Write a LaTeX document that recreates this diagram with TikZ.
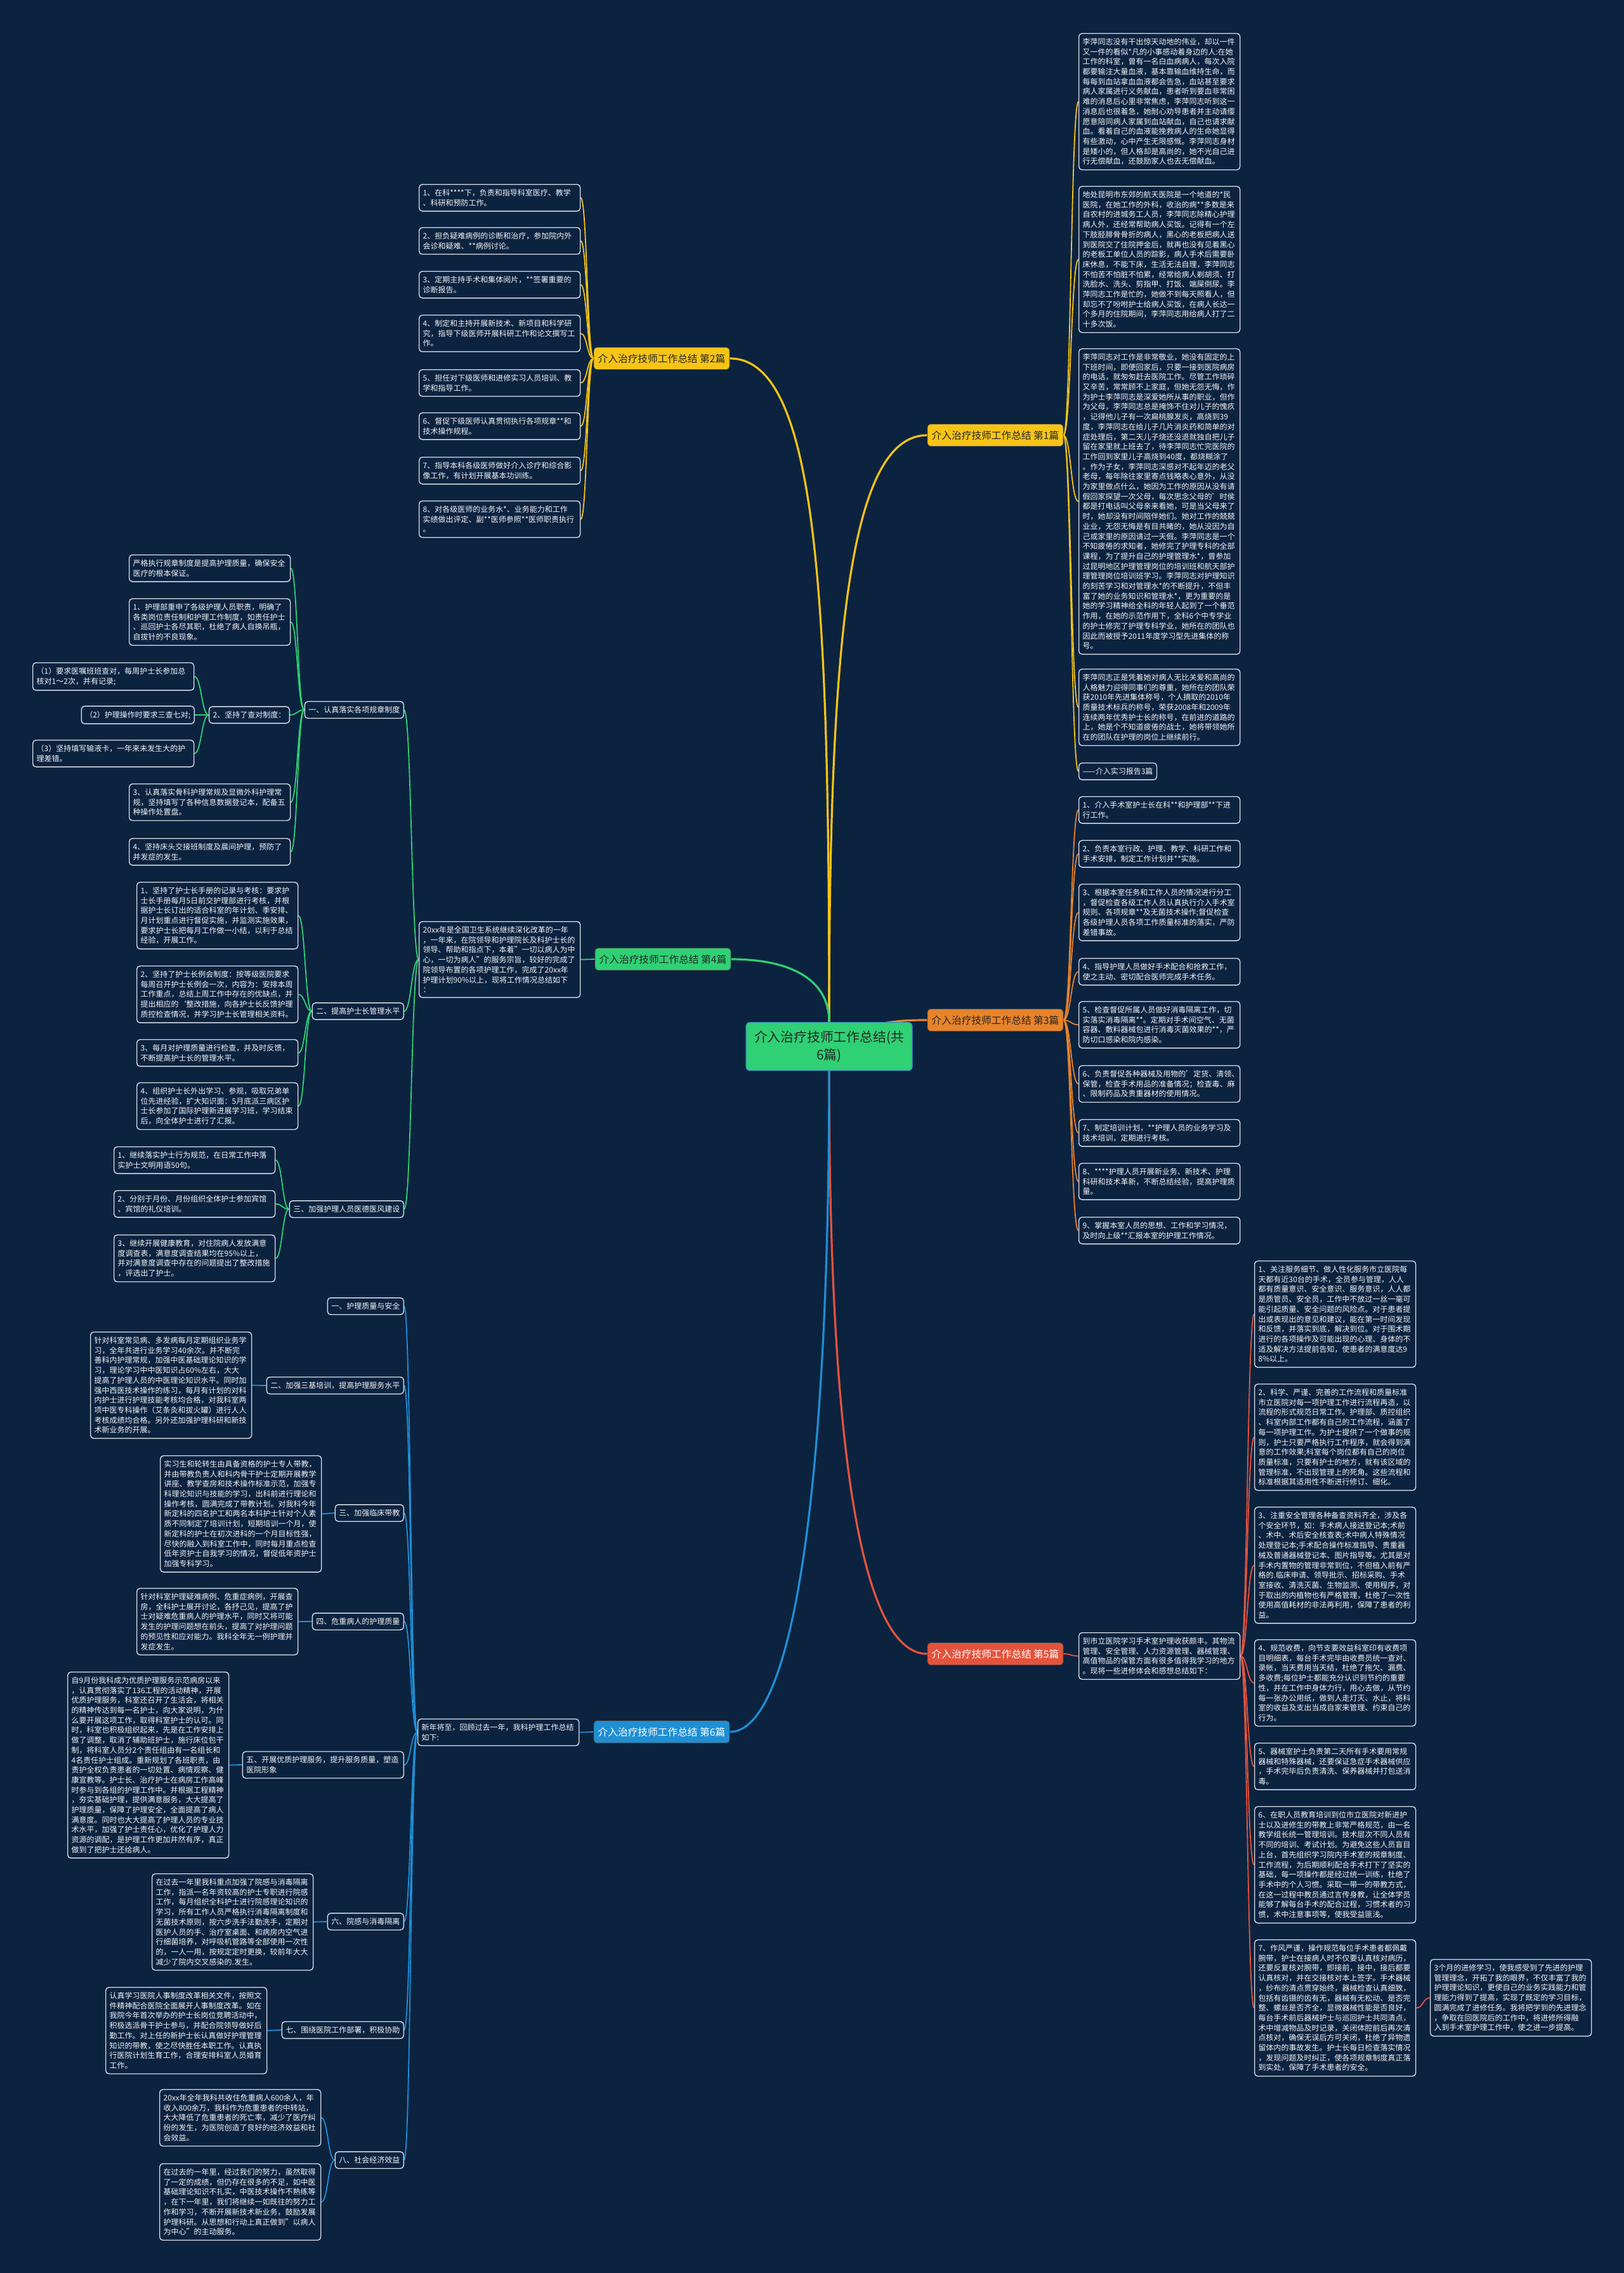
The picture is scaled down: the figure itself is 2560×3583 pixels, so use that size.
\documentclass[tikz,border=0pt]{standalone}
\usepackage{fontspec}
\setmainfont{Noto Sans CJK SC}
\usetikzlibrary{calc}
\definecolor{bgc}{HTML}{0C2340}
\definecolor{boxline}{HTML}{D5DBE3}
\definecolor{txt}{HTML}{F2F4F7}
\definecolor{cyel}{HTML}{F6C417}
\definecolor{cgrn}{HTML}{2FD174}
\definecolor{corg}{HTML}{E8832A}
\definecolor{cred}{HTML}{E5533D}
\definecolor{cblu}{HTML}{1E8FD5}
\definecolor{cbord}{HTML}{3A86C8}
\newcommand{\tfont}{\fontsize{6pt}{7.85pt}\selectfont}
\newcommand{\bfont}{\fontsize{7.85pt}{9pt}\selectfont}
\newcommand{\cfont}{\fontsize{10.4pt}{14pt}\selectfont}
\pgfdeclarelayer{back}
\pgfsetlayers{back,main}
\begin{document}
\begin{tikzpicture}[x=0.5pt,y=-0.5pt,
 tbox/.style={draw=boxline,line width=0.7pt,rounded corners=2.5pt,fill=bgc,text=txt,font=\tfont,align=left,inner xsep=3pt,inner ysep=3.8pt,anchor=north west,text width=121pt},
 lbl/.style={draw=boxline,line width=0.7pt,rounded corners=2.5pt,fill=bgc,text=txt,font=\tfont,align=left,inner xsep=3pt,inner ysep=3.8pt,anchor=east},
 br/.style={draw=black!70,line width=0.4pt,rounded corners=2.5pt,font=\bfont,inner xsep=3pt,inner ysep=4pt,minimum width=107pt,minimum height=17.5pt},
 hcurve/.style={to path={let \p1=(\tikztostart), \p2=(\tikztotarget) in .. controls ({0.5*\x1+0.5*\x2},\y1) and ({0.5*\x1+0.5*\x2},\y2) .. (\tikztotarget)}},
 ln/.style={line width=0.9pt},
 mln/.style={line width=1.6pt},
]
\useasboundingbox (0,0) rectangle (2560,3583);
\begin{pgfonlayer}{back}
\fill[bgc] (0,0) rectangle (2560,3583);
\end{pgfonlayer}

% ---------- center and branches ----------
\node[fill=cgrn,draw=cbord,line width=0.6pt,rounded corners=3pt,font=\cfont,text=black!85,align=center,minimum width=131pt,minimum height=38pt,anchor=north] (c) at (1307,1611) {介入治疗技师工作总结(共\\6篇)};
\node[br,fill=cyel,text=black!85] (b1) at (1569,686) {介入治疗技师工作总结 第1篇};
\node[br,fill=cyel,text=black!85] (b2) at (1043,565) {介入治疗技师工作总结 第2篇};
\node[br,fill=corg,text=black!85] (b3) at (1569,1608) {介入治疗技师工作总结 第3篇};
\node[br,fill=cgrn,text=black!85] (b4) at (1045,1512) {介入治疗技师工作总结 第4篇};
\node[br,fill=cred,text=white] (b5) at (1569,2607) {介入治疗技师工作总结 第5篇};
\node[br,fill=cblu,text=white] (b6) at (1043,2730) {介入治疗技师工作总结 第6篇};

% ---------- branch 1 ----------
\node[tbox] (a1) at (1700,52) {李萍同志没有干出惊天动地的伟业，却以一件\\又一件的看似*凡的小事感动着身边的人:在她\\工作的科室，曾有一名白血病病人，每次入院\\都要输注大量血液，基本靠输血维持生命，而\\每每到血站拿血血液都会告急，血站甚至要求\\病人家属进行义务献血，患者听到要血非常困\\难的消息后心里非常焦虑，李萍同志听到这一\\消息后也很着急，她耐心劝导患者并主动请缨\\愿意陪同病人家属到血站献血，自己也请求献\\血。看着自己的血液能挽救病人的生命她显得\\有些激动，心中产生无限感慨。李萍同志身材\\是矮小的，但人格却是高尚的，她不光自己进\\行无偿献血，还鼓励家人也去无偿献血。};
\node[tbox] (a2) at (1700,293) {地处昆明市东郊的航天医院是一个地道的*民\\医院，在她工作的外科，收治的病**多数是来\\自农村的进城务工人员，李萍同志除精心护理\\病人外，还经常帮助病人买饭。记得有一个左\\下肢胫腓骨骨折的病人，黑心的老板把病人送\\到医院交了住院押金后，就再也没有见着黑心\\的老板工单位人员的踪影，病人手术后需要卧\\床休息，不能下床，生活无法自理，李萍同志\\不怕苦不怕脏不怕累，经常给病人剃胡须、打\\洗脸水、洗头、剪指甲、打饭、端屎倒尿。李\\萍同志工作是忙的，她做不到每天照看人，但\\却忘不了吩咐护士给病人买饭，在病人长达一\\个多月的住院期间，李萍同志用给病人打了二\\十多次饭。};
\node[tbox] (a3) at (1700,549) {李萍同志对工作是非常敬业，她没有固定的上\\下班时间，即便回家后，只要一接到医院病房\\的电话，就匆匆赶去医院工作。尽管工作琐碎\\又辛苦，常常顾不上家庭，但她无怨无悔，作\\为护士李萍同志是深爱她所从事的职业，但作\\为父母，李萍同志总是掩饰不住对儿子的愧疚\\，记得他儿子有一次扁桃腺发炎，高烧到39\\度，李萍同志在给儿子几片消炎药和简单的对\\症处理后，第二天儿子烧还没退就独自把儿子\\留在家里就上班去了，待李萍同志忙完医院的\\工作回到家里儿子高烧到40度，都烧糊涂了\\。作为子女，李萍同志深感对不起年迈的老父\\老母，每年除往家里寄点钱略表心意外，从没\\为家里做点什么，她因为工作的原因从没有请\\假回家探望一次父母，每次思念父母的'时侯\\都是打电话叫父母亲来看她，可是当父母来了\\时，她却没有时间陪伴她们。她对工作的兢兢\\业业，无怨无悔是有目共睹的，她从没因为自\\己或家里的原因请过一天假。李萍同志是一个\\不知疲倦的求知者，她修完了护理专科的全部\\课程，为了提升自己的护理管理水*，曾参加\\过昆明地区护理管理岗位的培训班和航天部护\\理管理岗位培训班学习。李萍同志对护理知识\\的刻苦学习和对管理水*的不断提升，不但丰\\富了她的业务知识和管理水*，更为重要的是\\她的学习精神给全科的年轻人起到了一个垂范\\作用，在她的示范作用下，全科6个中专学业\\的护士修完了护理专科学业，她所在的团队也\\因此而被授予2011年度学习型先进集体的称\\号。};
\node[tbox] (a4) at (1700,1054) {李萍同志正是凭着她对病人无比关爱和高尚的\\人格魅力迎得同事们的尊重，她所在的团队荣\\获2010年先进集体称号，个人摘取的2010年\\质量技术标兵的称号，荣获2008年和2009年\\连续两年优秀护士长的称号，在前进的道路的\\上，她是个不知道疲倦的战士，她将带领她所\\在的团队在护理的岗位上继续前行。};
\node[tbox,text width=] (a5) at (1700,1202) {——介入实习报告3篇};

% ---------- branch 3 ----------
\node[tbox] (o1) at (1700,1255) {1、介入手术室护士长在科**和护理部**下进\\行工作。};
\node[tbox] (o2) at (1700,1324) {2、负责本室行政、护理、教学、科研工作和\\手术安排，制定工作计划并**实施。};
\node[tbox] (o3) at (1700,1393) {3、根据本室任务和工作人员的情况进行分工\\，督促检查各级工作人员认真执行介入手术室\\规则、各项规章**及无菌技术操作;督促检查\\各级护理人员各项工作质量标准的落实，严防\\差错事故。};
\node[tbox] (o4) at (1700,1510) {4、指导护理人员做好手术配合和抢救工作，\\使之主动、密切配合医师完成手术任务。};
\node[tbox] (o5) at (1700,1578) {5、检查督促所属人员做好消毒隔离工作，切\\实落实消毒隔离**。定期对手术间空气、无菌\\容器、敷料器械包进行消毒灭菌效果的**，严\\防切口感染和院内感染。};
\node[tbox] (o6) at (1700,1679) {6、负责督促各种器械及用物的'定货、清领、\\保管，检查手术用品的准备情况；检查毒、麻\\、限制药品及贵重器材的使用情况。};
\node[tbox] (o7) at (1700,1764) {7、制定培训计划，**护理人员的业务学习及\\技术培训，定期进行考核。};
\node[tbox] (o8) at (1700,1833) {8、****护理人员开展新业务、新技术、护理\\科研和技术革新，不断总结经验，提高护理质\\量。};
\node[tbox] (o9) at (1700,1918) {9、掌握本室人员的思想、工作和学习情况，\\及时向上级**汇报本室的护理工作情况。};

% ---------- branch 2 ----------
\node[tbox] (y1) at (660,290) {1、在科****下，负责和指导科室医疗、教学\\、科研和预防工作。};
\node[tbox] (y2) at (660,358) {2、担负疑难病例的诊断和治疗，参加院内外\\会诊和疑难、**病例讨论。};
\node[tbox] (y3) at (660,427) {3、定期主持手术和集体阅片，**签署重要的\\诊断报告。};
\node[tbox] (y4) at (660,496) {4、制定和主持开展新技术、新项目和科学研\\究，指导下级医师开展科研工作和论文撰写工\\作。};
\node[tbox] (y5) at (660,582) {5、担任对下级医师和进修实习人员培训、教\\学和指导工作。};
\node[tbox] (y6) at (660,650) {6、督促下级医师认真贯彻执行各项规章**和\\技术操作规程。};
\node[tbox] (y7) at (660,720) {7、指导本科各级医师做好介入诊疗和综合影\\像工作，有计划开展基本功训练。};
\node[tbox] (y8) at (660,789) {8、对各级医师的业务水*、业务能力和工作\\实绩做出评定、副**医师参照**医师职责执行\\。};

% ---------- branch 4 ----------
\node[tbox] (in4) at (660,1452) {20xx年是全国卫生系统继续深化改革的一年\\，一年来，在院领导和护理院长及科护士长的\\领导、帮助和指点下，本着"一切以病人为中\\心，一切为病人"的服务宗旨，较好的完成了\\院领导布置的各项护理工作，完成了20xx年\\护理计划90\%以上，现将工作情况总结如下\\：};
\node[lbl] (g1) at (637,1119) {一、认真落实各项规章制度};
\node[lbl] (g2) at (637,1594) {二、提高护士长管理水平};
\node[lbl] (g3) at (637,1906) {三、加强护理人员医德医风建设};
\node[tbox] (g1a) at (203,874) {严格执行规章制度是提高护理质量，确保安全\\医疗的根本保证。};
\node[tbox] (g1b) at (203,943) {1、护理部重申了各级护理人员职责，明确了\\各类岗位责任制和护理工作制度，如责任护士\\、巡回护士各尽其职，杜绝了病人自换吊瓶，\\自拔针的不良现象。};
\node[lbl] (g1c) at (457,1127) {2、坚持了查对制度：};
\node[tbox] (p1) at (51,1044) {（1）要求医嘱班班查对，每周护士长参加总\\核对1～2次，并有记录;};
\node[lbl] (p2) at (307,1127) {（2）护理操作时要求三查七对;};
\node[tbox] (p3) at (51,1166) {（3）坚持填写输液卡，一年来未发生大的护\\理差错。};
\node[tbox] (g1d) at (203,1235) {3、认真落实骨科护理常规及显微外科护理常\\规，坚持填写了各种信息数据登记本，配备五\\种操作处置盘。};
\node[tbox] (g1e) at (203,1321) {4、坚持床头交接班制度及晨间护理，预防了\\并发症的发生。};
\node[tbox] (g2a) at (215,1390) {1、坚持了护士长手册的记录与考核：要求护\\士长手册每月5日前交护理部进行考核，并根\\据护士长订出的适合科室的年计划、季安排、\\月计划重点进行督促实施，并监测实施效果，\\要求护士长把每月工作做一小结，以利于总结\\经验，开展工作。};
\node[tbox] (g2b) at (215,1522) {2、坚持了护士长例会制度：按等级医院要求\\每周召开护士长例会一次，内容为：安排本周\\工作重点，总结上周工作中存在的优缺点，并\\提出相应的`整改措施，向各护士长反馈护理\\质控检查情况，并学习护士长管理相关资料。};
\node[tbox] (g2c) at (215,1638) {3、每月对护理质量进行检查，并及时反馈，\\不断提高护士长的管理水平。};
\node[tbox] (g2d) at (215,1706) {4、组织护士长外出学习、参观，吸取兄弟单\\位先进经验，扩大知识面：5月底派三病区护\\士长参加了国际护理新进展学习班，学习结束\\后，向全体护士进行了汇报。};
\node[tbox] (g3a) at (179,1807) {1、继续落实护士行为规范，在日常工作中落\\实护士文明用语50句。};
\node[tbox] (g3b) at (179,1876) {2、分别于月份、月份组织全体护士参加宾馆\\、宾馆的礼仪培训。};
\node[tbox] (g3c) at (179,1946) {3、继续开展健康教育，对住院病人发放满意\\度调查表，满意度调查结果均在95\%以上，\\并对满意度调查中存在的问题提出了整改措施\\，评选出了护士。};

% ---------- branch 5 ----------
\node[tbox] (m5) at (1700,2573) {到市立医院学习手术室护理收获颇丰。其物流\\管理、安全管理、人力资源管理、器械管理、\\高值物品的保管方面有很多值得我学习的地方\\。现将一些进修体会和感想总结如下：};
\node[tbox] (r1) at (1977,1987) {1、关注服务细节、做人性化服务市立医院每\\天都有近30台的手术，全员参与管理，人人\\都有质量意识、安全意识、服务意识，人人都\\是质管员、安全员，工作中不放过一丝一毫可\\能引起质量、安全问题的风险点。对于患者提\\出或表现出的意见和建议，能在第一时间发现\\和反馈，并落实到底，解决到位。对于围术期\\进行的各项操作及可能出现的心理、身体的不\\适及解决方法提前告知，使患者的满意度达9\\8\%以上。};
\node[tbox] (r2) at (1977,2181) {2、科学、严谨、完善的工作流程和质量标准\\市立医院对每一项护理工作进行流程再造，以\\流程的形式规范日常工作。护理部、质控组织\\、科室内部工作都有自己的工作流程，涵盖了\\每一项护理工作。为护士提供了一个做事的规\\则，护士只要严格执行工作程序，就会得到满\\意的工作效果;科室每个岗位都有自己的岗位\\质量标准，只要有护士的地方，就有该区域的\\管理标准，不出现管理上的死角。这些流程和\\标准根据其适用性不断进行修订、细化。};
\node[tbox] (r3) at (1977,2375) {3、注重安全管理各种备查资料齐全，涉及各\\个安全环节，如：手术病人接送登记本;术前\\、术中、术后安全核查表;术中病人特殊情况\\处理登记本;手术配合操作标准指导、贵重器\\械及普通器械登记本、图片指导等。尤其是对\\手术内置物的管理非常到位，不但植入前有严\\格的.临床申请、领导批示、招标采购、手术\\室接收、清洗灭菌、生物监测、使用程序，对\\于取出的内植物也有严格管理，杜绝了一次性\\使用高值耗材的非法再利用，保障了患者的利\\益。};
\node[tbox] (r4) at (1977,2584) {4、规范收费，向节支要效益科室印有收费项\\目明细表，每台手术完毕由收费员统一查对、\\录帐，当天费用当天结，杜绝了拖欠、漏费、\\多收费;每位护士都能充分认识到节约的重要\\性，并在工作中身体力行，用心去做，从节约\\每一张办公用纸，做到人走灯灭、水止，将科\\室的收益及支出当成自家来管理、约束自己的\\行为。};
\node[tbox] (r5) at (1977,2747) {5、器械室护士负责第二天所有手术要用常规\\器械和特殊器械，还要保证急症手术器械供应\\，手术完毕后负责清洗、保养器械并打包送消\\毒。};
\node[tbox] (r6) at (1977,2847) {6、在职人员教育培训到位市立医院对新进护\\士以及进修生的带教上非常严格规范，由一名\\教学组长统一管理培训。技术层次不同人员有\\不同的培训、考试计划。为避免这些人员盲目\\上台，首先组织学习院内手术室的规章制度、\\工作流程，为后期顺利配合手术打下了坚实的\\基础，每一项操作都是经过统一训练，杜绝了\\手术中的个人习惯。采取一带一的带教方式，\\在这一过程中教员通过言传身教，让全体学员\\能够了解每台手术的配合过程，习惯术者的习\\惯，术中注意事项等，使我受益匪浅。};
\node[tbox] (r7) at (1977,3057) {7、作风严谨，操作规范每位手术患者都佩戴\\腕带，护士在接病人时不仅要认真核对病历，\\还要反复核对腕带，即接前，接中，接后都要\\认真核对，并在交接核对本上签字。手术器械\\，纱布的清点贯穿始终，器械检查认真细致，\\包括有齿镊的齿有无，器械有无松动、是否完\\整、螺丝是否齐全，显微器械性能是否良好，\\每台手术前后器械护士与巡回护士共同清点，\\术中增减物品及时记录，关闭体腔前后再次清\\点核对，确保无误后方可关闭，杜绝了异物遗\\留体内的事故发生。护士长每日检查落实情况\\，发现问题及时纠正，使各项规章制度真正落\\到实处，保障了手术患者的安全。};
\node[tbox] (m3) at (2254,3088) {3个月的进修学习，使我感受到了先进的护理\\管理理念，开拓了我的眼界，不仅丰富了我的\\护理理论知识，更使自己的业务实践能力和管\\理能力得到了提高，实现了既定的学习目标，\\圆满完成了进修任务。我将把学到的先进理念\\，争取在回医院后的工作中，将进修所得融\\入到手术室护理工作中，使之进一步提高。};

% ---------- branch 6 ----------
\node[tbox] (in6) at (658,2709) {新年将至，回顾过去一年，我科护理工作总结\\如下:};
\node[lbl] (s1) at (637,2059) {一、护理质量与安全};
\node[lbl] (s2) at (637,2184) {二、加强三基培训，提高护理服务水平};
\node[lbl] (s3) at (637,2385) {三、加强临床带教};
\node[lbl] (s4) at (637,2556) {四、危重病人的护理质量};
\node[tbox,anchor=east] (s5) at (637,2782) {五、开展优质护理服务，提升服务质量，塑造\\医院形象};
\node[lbl] (s6) at (637,3029) {六、院感与消毒隔离};
\node[lbl] (s7) at (637,3200) {七、围绕医院工作部署，积极协助};
\node[lbl] (s8) at (637,3405) {八、社会经济效益};
\node[tbox] (t2) at (142,2099) {针对科室常见病、多发病每月定期组织业务学\\习，全年共进行业务学习40余次。并不断完\\善科内护理常规，加强中医基础理论知识的学\\习，理论学习中中医知识占60\%左右，大大\\提高了护理人员的中医理论知识水平。同时加\\强中西医技术操作的练习，每月有计划的对科\\内护士进行护理技能考核均合格，对我科室两\\项中医专科操作（艾条灸和拔火罐）进行人人\\考核成绩均合格。另外还加强护理科研和新技\\术新业务的开展。};
\node[tbox] (t3) at (252,2294) {实习生和轮转生由具备资格的护士专人带教，\\并由带教负责人和科内骨干护士定期开展教学\\讲座、教学查房和技术操作标准示范，加强专\\科理论知识与技能的学习，出科前进行理论和\\操作考核，圆满完成了带教计划。对我科今年\\新定科的四名护工和两名本科护士针对个人素\\质不同制定了培训计划，短期培训一个月，使\\新定科的护士在初次进科的一个月目标性强，\\尽快的融入到科室工作中，同时每月重点检查\\低年资护士自我学习的情况，督促低年资护士\\加强专科学习。};
\node[tbox] (t4) at (215,2503) {针对科室护理疑难病例、危重症病例，开展查\\房，全科护士展开讨论，各抒己见，提高了护\\士对疑难危重病人的护理水平，同时又将可能\\发生的护理问题想在前头，提高了对护理问题\\的预见性和应对能力。我科全年无一例护理并\\发症发生。};
\node[tbox] (t5) at (106,2635) {自9月份我科成为优质护理服务示范病房以来\\，认真贯彻落实了136工程的活动精神，开展\\优质护理服务，科室还召开了生活会，将相关\\的精神传达到每一名护士，向大家说明，为什\\么要开展这项工作，取得科室护士的认可。同\\时，科室也积极组织起来，先是在工作安排上\\做了调整，取消了辅助班护士，施行床位包干\\制，将科室人员分2个责任组由有一名组长和\\4名责任护士组成。重新规划了各班职责，由\\责护全权负责患者的一切处置、病情观察、健\\康宣教等。护士长、治疗护士在病房工作高峰\\时参与到各组的护理工作中。并根据工程精神\\，夯实基础护理，提供满意服务，大大提高了\\护理质量，保障了护理安全，全面提高了病人\\满意度。同时也大大提高了护理人员的专业技\\术水平，加强了护士责任心，优化了护理人力\\资源的调配，是护理工作更加井然有序，真正\\做到了把护士还给病人。};
\node[tbox] (t6) at (239,2953) {在过去一年里我科重点加强了院感与消毒隔离\\工作，指派一名年资较高的护士专职进行院感\\工作，每月组织全科护士进行院感理论知识的\\学习，所有工作人员严格执行消毒隔离制度和\\无菌技术原则，按六步洗手法勤洗手，定期对\\医护人员的手、治疗室桌面、和病房内空气进\\行细菌培养，对呼吸机管路等全部使用一次性\\的，一人一用，按规定定时更换，较前年大大\\减少了院内交叉感染的.发生。};
\node[tbox] (t7) at (166,3132) {认真学习医院人事制度改革相关文件，按照文\\件精神配合医院全面展开人事制度改革。如在\\我院今年首次举办的护士长岗位竞聘活动中，\\积极选派骨干护士参与，并配合院领导做好后\\勤工作。对上任的新护士长认真做好护理管理\\知识的带教，使之尽快胜任本职工作。认真执\\行医院计划生育工作，合理安排科室人员婚育\\工作。};
\node[tbox] (t8a) at (251,3293) {20xx年全年我科共收住危重病人600余人，年\\收入800余万，我科作为危重患者的中转站，\\大大降低了危重患者的死亡率，减少了医疗纠\\纷的发生，为医院创造了良好的经济效益和社\\会效益。};
\node[tbox] (t8b) at (251,3410) {在过去的一年里，经过我们的努力，虽然取得\\了一定的成绩，但仍存在很多的不足，如中医\\基础理论知识不扎实，中医技术操作不熟练等\\，在下一年里，我们将继续一如既往的努力工\\作和学习，不断开展新技术新业务，鼓励发展\\护理科研。从思想和行动上真正做到"以病人\\为中心"的主动服务。};

% ---------- connectors ----------
\begin{pgfonlayer}{back}
\draw[cyel,mln] (c.north) .. controls (1307,950) and (1290,565) .. (b2.east);
\draw[cyel,mln] (c.north) .. controls (1307,1000) and (1340,686) .. (b1.west);
\draw[cgrn,mln] (c.north) .. controls (1307,1540) and (1240,1512) .. (b4.east);
\draw[corg,mln] (1386,1614) .. controls (1420,1608) and (1440,1608) .. (b3.west);
\draw[cred,mln] (c.south) .. controls (1307,2300) and (1360,2607) .. (b5.west);
\draw[cblu,mln] (c.south) .. controls (1307,2350) and (1250,2730) .. (b6.east);
\foreach \nd in {a1,a2,a3,a4,a5} \draw[cyel,ln] (b1.east) to[hcurve] (\nd.west);
\foreach \nd in {y1,y2,y3,y4,y5,y6,y7,y8} \draw[cyel,ln] (b2.west) to[hcurve] (\nd.east);
\foreach \nd in {o1,o2,o3,o4,o5,o6,o7,o8,o9} \draw[corg,ln] (b3.east) to[hcurve] (\nd.west);
\draw[cgrn,ln] (b4.west) to[hcurve] (in4.east);
\foreach \nd in {g1,g2,g3} \draw[cgrn,ln] (in4.west) to[hcurve] (\nd.east);
\foreach \nd in {g1a,g1b,g1c,g1d,g1e} \draw[cgrn,ln] (g1.west) to[hcurve] (\nd.east);
\foreach \nd in {p1,p2,p3} \draw[cgrn,ln] (g1c.west) to[hcurve] (\nd.east);
\foreach \nd in {g2a,g2b,g2c,g2d} \draw[cgrn,ln] (g2.west) to[hcurve] (\nd.east);
\foreach \nd in {g3a,g3b,g3c} \draw[cgrn,ln] (g3.west) to[hcurve] (\nd.east);
\draw[cred,ln] (b5.east) to[hcurve] (m5.west);
\foreach \nd in {r1,r2,r3,r4,r5,r6,r7} \draw[cred,ln] (m5.east) to[hcurve] (\nd.west);
\draw[cred,ln] (r7.east) to[hcurve] (m3.west);
\draw[cblu,ln] (b6.west) to[hcurve] (in6.east);
\foreach \nd in {s1,s2,s3,s4,s5,s6,s7,s8} \draw[cblu,ln] (in6.west) to[hcurve] (\nd.east);
\draw[cblu,ln] (s2.west) to[hcurve] (t2.east);
\draw[cblu,ln] (s3.west) to[hcurve] (t3.east);
\draw[cblu,ln] (s4.west) to[hcurve] (t4.east);
\draw[cblu,ln] (s5.west) to[hcurve] (t5.east);
\draw[cblu,ln] (s6.west) to[hcurve] (t6.east);
\draw[cblu,ln] (s7.west) to[hcurve] (t7.east);
\draw[cblu,ln] (s8.west) to[hcurve] (t8a.east);
\draw[cblu,ln] (s8.west) to[hcurve] (t8b.east);
\end{pgfonlayer}
\end{tikzpicture}
\end{document}
